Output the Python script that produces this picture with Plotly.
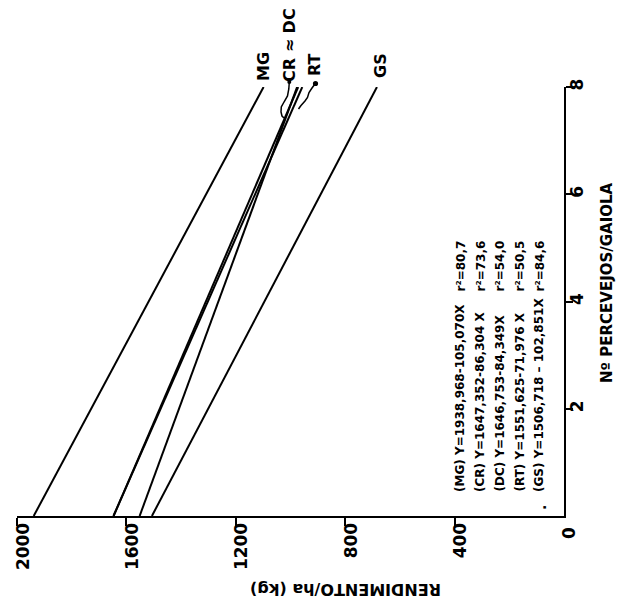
import plotly.graph_objects as go

# ---- data ----
groups = ["MG", "CR", "DC", "RT", "GS"]
percevejos_ends = [0, 8]
rend_at_0 = [1938.968, 1647.352, 1646.753, 1551.625, 1506.718]
rend_at_8 = [1098.4, 957.0, 972.0, 975.8, 683.9]
equations = [
    "(MG) Y=1938,968-105,070X",
    "(CR) Y=1647,352-86,304 X",
    "(DC) Y=1646,753-84,349X",
    "(RT) Y=1551,625-71,976 X",
    "(GS) Y=1506,718 \u2013 102,851X",
]
r2_labels = ["r\u00b2=80,7", "r\u00b2=73,6", "r\u00b2=54,0", "r\u00b2=50,5", "r\u00b2=84,6"]
x_ticks = [2000, 1600, 1200, 800, 400]
y_ticks = [2, 4, 6, 8]

W, H = 625, 604
L, R, T, B = 17, 61, 87, 88
PW, PH = W - L - R, H - T - B
FONT = "DejaVu Sans"


def fx(px):
    return (px - L) / PW


def fy(py):
    return (H - B - py) / PH


fig = go.Figure()
for g, a, b in zip(groups, rend_at_0, rend_at_8):
    fig.add_trace(go.Scatter(x=[a, b], y=percevejos_ends, mode="lines",
                             line=dict(color="black", width=2), name=g,
                             showlegend=False, hoverinfo="skip"))

ann = []


def text(s, px, py, size, angle=-90, xa="center", ya="middle"):
    ann.append(dict(text=s, x=fx(px), y=fy(py), xref="paper", yref="paper",
                    showarrow=False, textangle=angle, xanchor=xa, yanchor=ya,
                    font=dict(family=FONT, size=size, color="black", weight="bold")))


# line labels
text("MG", 263, 67, 16)
text("CR \u2248 DC", 290, 45, 16)
text("RT", 315, 64, 16)
text("GS", 380, 66, 16)

# legend block
xs = [460, 480, 499, 519, 539]
for xx, eq, r2 in zip(xs, equations, r2_labels):
    text(eq, xx, 494, 12, ya="bottom")
    text(r2, xx, 294, 12, ya="bottom")
text("\u00b7", 545, 508, 14)

# axis titles and origin
text("N\u00ba PERCEVEJOS/GAIOLA", 607, 283, 15)
text("RENDIMENTO/ha (kg)", 346, 590, 16, angle=180)
text("0", 569, 533, 17)

fig.update_layout(annotations=ann)

# leader curves
def path(pts):
    s = "M %f,%f" % (fx(pts[0][0]), fy(pts[0][1]))
    for p in pts[1:]:
        s += " L %f,%f" % (fx(p[0]), fy(p[1]))
    return s

cr_curve = [(289.3, 82), (288.8, 89), (287.5, 96), (284, 102), (281.3, 107), (281, 112), (282, 116), (284, 118)]
rt_curve = [(315, 84), (312, 88), (309, 92.5), (307.5, 97.5), (305, 101), (301, 105.5), (298.5, 109)]
shapes = [
    dict(type="path", path=path(cr_curve), xref="paper", yref="paper",
         line=dict(color="black", width=1.5)),
    dict(type="path", path=path(rt_curve), xref="paper", yref="paper",
         line=dict(color="black", width=1.5)),
]
for cx, cy, r in [(289.3, 82, 2), (315.5, 83.5, 2.6)]:
    shapes.append(dict(type="circle", xref="paper", yref="paper",
                       x0=fx(cx - r), x1=fx(cx + r), y0=fy(cy + r), y1=fy(cy - r),
                       fillcolor="black", line=dict(color="black", width=0)))
fig.update_layout(shapes=shapes)

fig.update_layout(
    width=W, height=H,
    margin=dict(l=L, r=R, t=T, b=B, pad=0),
    paper_bgcolor="white", plot_bgcolor="white",
    showlegend=False,
    xaxis=dict(range=[2000, 0], showgrid=False, zeroline=False, showline=True,
               linecolor="black", linewidth=2, ticks="outside", ticklen=8,
               tickwidth=2, tickcolor="black", tickvals=x_ticks,
               ticktext=[str(v) for v in x_ticks], tickangle=-90,
               ticklabelshift=-6, ticklabelstandoff=-10,
               tickfont=dict(family=FONT, size=17, color="black", weight="bold")),
    yaxis=dict(range=[0, 8], side="right", showgrid=False, zeroline=False,
               showline=True, linecolor="black", linewidth=2, ticks="outside",
               ticklen=7, tickwidth=2, tickcolor="black", tickvals=y_ticks,
               ticktext=[str(v) for v in y_ticks], tickangle=-90,
               ticklabelstandoff=-10,
               tickfont=dict(family=FONT, size=17, color="black", weight="bold")),
)

fig.write_html("out.html", config={"displayModeBar": False},
               post_script="document.body.style.margin='0px';document.body.style.overflow='hidden';")
